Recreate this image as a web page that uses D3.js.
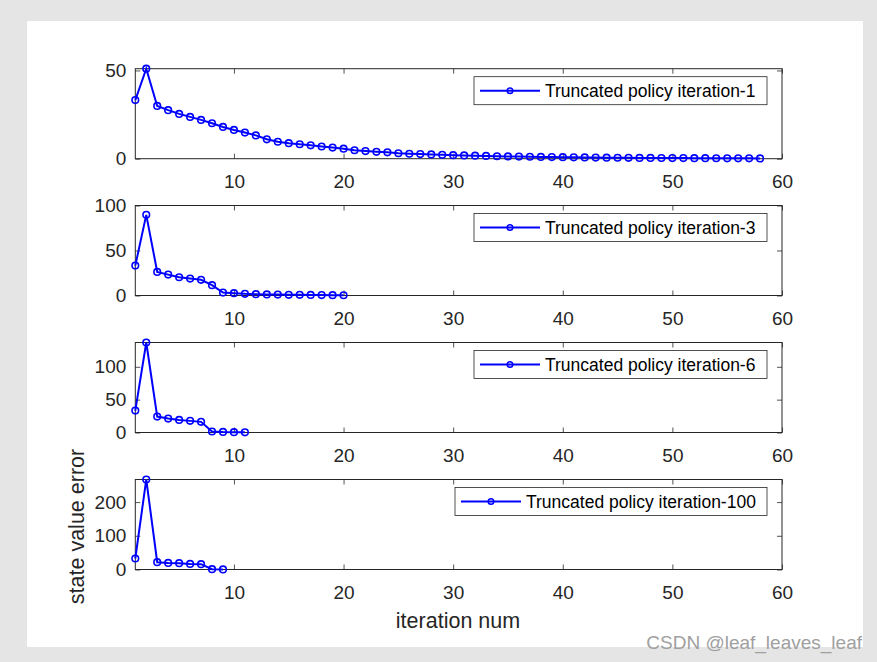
<!DOCTYPE html>
<html>
<head>
<meta charset="utf-8">
<script src="https://cdn.jsdelivr.net/npm/d3@7/dist/d3.min.js"></script>
<style>
  html, body { margin: 0; padding: 0; background: #e5e5e5; }
  svg { display: block; }
  text { font-family: "Liberation Sans", Arial, Helvetica, sans-serif; }
</style>
</head>
<body>
<svg id="chart" width="877" height="662"></svg>
<script>
// ---- data ----
const seriesLabels = [
  "Truncated policy iteration-1",
  "Truncated policy iteration-3",
  "Truncated policy iteration-6",
  "Truncated policy iteration-100"
];
const errors1 = [33.2, 51.0, 29.9, 27.5, 25.4, 23.7, 22.0, 20.1, 18.0, 16.3,
  14.8, 13.2, 11.0, 9.6, 8.8, 8.2, 7.6, 6.9, 6.3, 5.7,
  4.8, 4.3, 3.9, 3.6, 3.1, 2.8, 2.6, 2.4, 2.2, 2.0,
  1.85, 1.7, 1.55, 1.4, 1.3, 1.2, 1.1, 1.0, 0.92, 0.85,
  0.78, 0.72, 0.66, 0.6, 0.55, 0.5, 0.46, 0.42, 0.39, 0.36,
  0.33, 0.3, 0.28, 0.26, 0.24, 0.22, 0.2, 0.18];
const errors3 = [33.2, 89.6, 26.2, 23.2, 20.3, 18.8, 17.4, 11.5, 3.3, 2.6,
  1.9, 1.5, 1.2, 1.0, 0.8, 0.7, 0.6, 0.5, 0.4, 0.3];
const errors6 = [33.3, 137, 24.2, 21.2, 19.2, 17.7, 16.2, 1.5, 0.8, 0.5, 0.3];
const errors100 = [32.6, 267, 21.7, 19.6, 18.7, 16.6, 15.7, 0.9, 0.3];
const xTicks = [10, 20, 30, 40, 50, 60];
const yTicks1 = [0, 50];
const yTicks3 = [0, 50, 100];
const yTicks6 = [0, 50, 100];
const yTicks100 = [0, 100, 200];
const yMax = [51, 100, 137, 267];
const xLabel = "iteration num";
const yLabel = "state value error";
const watermark = "CSDN @leaf_leaves_leaf";

// ---- layout ----
const svg = d3.select("#chart");
const axCol = "#262626";
const blue = "#0000ff";

svg.append("rect").attr("x", 27).attr("y", 21).attr("width", 836).attr("height", 626).attr("fill", "#ffffff");

const panels = [
  { data: errors1, yt: yTicks1, ymax: yMax[0], top: 68.7, label: seriesLabels[0], lx: 474 },
  { data: errors3, yt: yTicks3, ymax: yMax[1], top: 205.5, label: seriesLabels[1], lx: 474 },
  { data: errors6, yt: yTicks6, ymax: yMax[2], top: 342.5, label: seriesLabels[2], lx: 474 },
  { data: errors100, yt: yTicks100, ymax: yMax[3], top: 479.5, label: seriesLabels[3], lx: 455 }
];
const left = 135.3, right = 782, ph = 90;

const x = d3.scaleLinear().domain([1, 60]).range([left, right]);

panels.forEach((p, i) => {
  const y = d3.scaleLinear().domain([0, p.ymax]).range([p.top + ph, p.top]);
  const g = svg.append("g");

  // axes with inward ticks
  const xb = g.append("g").attr("transform", `translate(0,${p.top + ph})`)
    .call(d3.axisBottom(x).tickValues(xTicks).tickSize(-5).tickPadding(16).tickFormat(d3.format("d")));
  const xt = g.append("g").attr("transform", `translate(0,${p.top})`)
    .call(d3.axisTop(x).tickValues(xTicks).tickSize(-5).tickFormat(""));
  const yl = g.append("g").attr("transform", `translate(${left},0)`)
    .call(d3.axisLeft(y).tickValues(p.yt).tickSize(-5).tickPadding(9).tickFormat(d3.format("d")));
  const yr = g.append("g").attr("transform", `translate(${right},0)`)
    .call(d3.axisRight(y).tickValues(p.yt).tickSize(-5).tickFormat(""));
  [xb, xt, yl, yr].forEach(a => {
    a.select(".domain").remove();
    a.selectAll(".tick line").attr("stroke", axCol).attr("stroke-width", 0.8);
    a.selectAll(".tick text").attr("fill", axCol).style("font-size", "19px")
      .style("font-family", "'Liberation Sans', Arial, sans-serif");
  });

  g.append("rect").attr("x", left).attr("y", p.top).attr("width", right - left).attr("height", ph)
    .attr("fill", "none").attr("stroke", axCol).attr("stroke-width", 1);

  const line = d3.line().x((d, k) => x(k + 1)).y(d => y(d));
  g.append("path").datum(p.data).attr("d", line)
    .attr("fill", "none").attr("stroke", blue).attr("stroke-width", 2);
  g.selectAll("circle.m").data(p.data).enter().append("circle").attr("class", "m")
    .attr("cx", (d, k) => x(k + 1)).attr("cy", d => y(d)).attr("r", 3.3)
    .attr("fill", "none").attr("stroke", blue).attr("stroke-width", 1.6);

  // legend
  const lt = p.top + 8, lw = 767 - p.lx, lh = 28;
  const lg = g.append("g");
  lg.append("rect").attr("x", p.lx).attr("y", lt).attr("width", lw).attr("height", lh)
    .attr("fill", "#ffffff").attr("stroke", axCol).attr("stroke-width", 0.8);
  lg.append("line").attr("x1", p.lx + 6).attr("x2", p.lx + 66).attr("y1", lt + lh / 2).attr("y2", lt + lh / 2)
    .attr("stroke", blue).attr("stroke-width", 2);
  lg.append("circle").attr("cx", p.lx + 36).attr("cy", lt + lh / 2).attr("r", 2.8)
    .attr("fill", "none").attr("stroke", blue).attr("stroke-width", 1.5);
  lg.append("text").attr("x", p.lx + 71).attr("y", lt + lh / 2).attr("dy", "0.35em")
    .attr("fill", "#000").style("font-size", "17.5px").text(p.label);
});

// axis labels
svg.append("text").attr("x", 458).attr("y", 628).attr("text-anchor", "middle")
  .attr("fill", axCol).style("font-size", "21.5px").text(xLabel);
svg.append("text").attr("transform", `translate(84,${479.5 + ph / 2 + 2}) rotate(-90)`)
  .attr("text-anchor", "middle").attr("fill", axCol).style("font-size", "21.5px").text(yLabel);

// watermark
svg.append("text").attr("x", 862).attr("y", 649).attr("text-anchor", "end")
  .attr("fill", "#a0a0a0").style("font-size", "19px").text(watermark);
</script>
</body>
</html>
